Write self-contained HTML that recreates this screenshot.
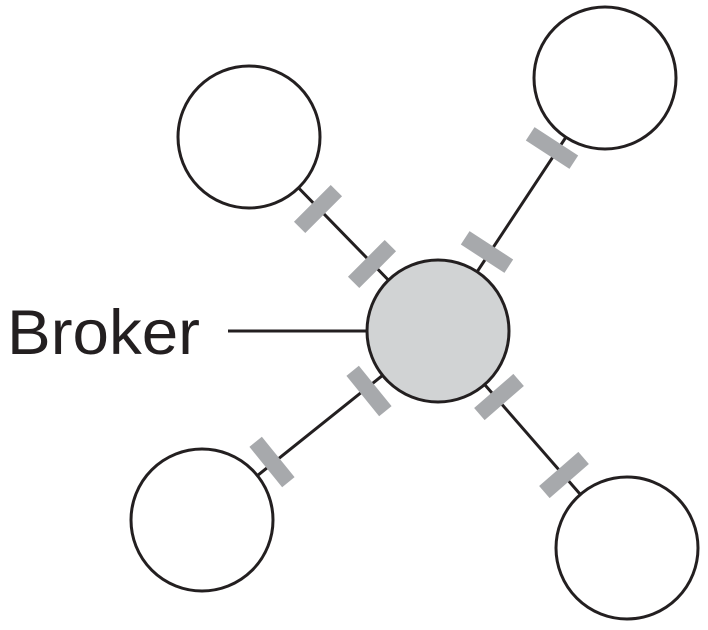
<!DOCTYPE html>
<html><head><style>body{margin:0;background:#fff}</style></head><body>
<svg width="708" height="625" xmlns="http://www.w3.org/2000/svg">
<g stroke="#231f20" stroke-width="3">
<line x1="438" y1="331" x2="249" y2="137"/>
<line x1="438" y1="331" x2="605" y2="78"/>
<line x1="438" y1="331" x2="202" y2="520"/>
<line x1="438" y1="331" x2="627" y2="548"/>
<line x1="228" y1="331" x2="368" y2="331"/>
</g>
<g fill="#a7a9ac">
<rect x="-26" y="-8" width="52" height="16" transform="translate(318,209) rotate(-45)"/>
<rect x="-26" y="-8" width="52" height="16" transform="translate(372,264) rotate(-45)"/>
<rect x="-26" y="-8" width="52" height="16" transform="translate(487,252) rotate(33)"/>
<rect x="-26" y="-8" width="52" height="16" transform="translate(552,148) rotate(33)"/>
<rect x="-26" y="-8" width="52" height="16" transform="translate(369,391) rotate(51)"/>
<rect x="-26" y="-8" width="52" height="16" transform="translate(272,462) rotate(51)"/>
<rect x="-26" y="-8" width="52" height="16" transform="translate(499,397) rotate(-41)"/>
<rect x="-26" y="-8" width="52" height="16" transform="translate(564,475) rotate(-41)"/>
</g>
<g stroke="#231f20" stroke-width="3" fill="#fff">
<circle cx="249" cy="137" r="71"/>
<circle cx="605" cy="78" r="71"/>
<circle cx="202" cy="520" r="71"/>
<circle cx="627" cy="548" r="71"/>
<circle cx="438" cy="331" r="71" fill="#d1d3d4"/>
</g>
<text x="7" y="354" font-family="Liberation Sans, sans-serif" font-size="63" textLength="193" lengthAdjust="spacingAndGlyphs" fill="#231f20">Broker</text>
</svg>
</body></html>
